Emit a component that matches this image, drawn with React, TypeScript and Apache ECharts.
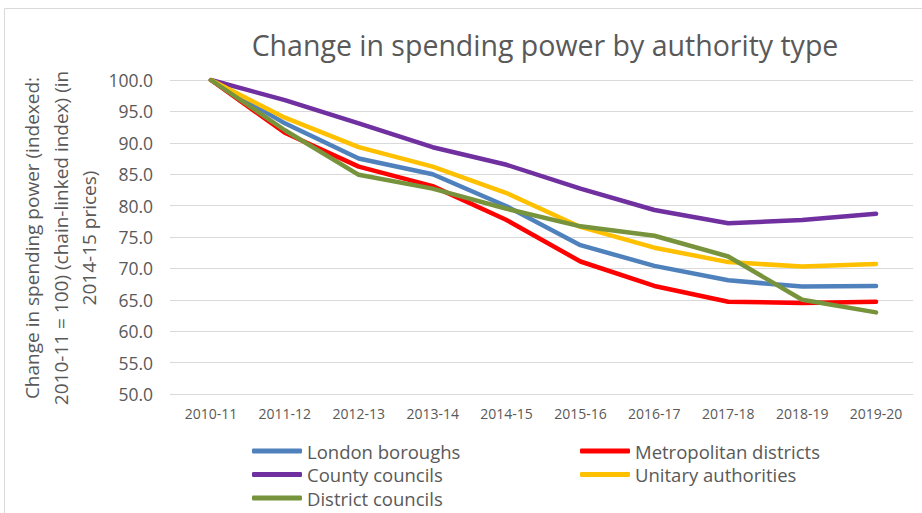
import React, { useEffect, useRef } from "react";
import * as echarts from "echarts";

const categories = ["2010-11", "2011-12", "2012-13", "2013-14", "2014-15", "2015-16", "2016-17", "2017-18", "2018-19", "2019-20"];
const londonBoroughs = [100, 93.1, 87.5, 85.0, 79.9, 73.7, 70.4, 68.1, 67.1, 67.2];
const metropolitanDistricts = [100, 91.6, 86.2, 83.1, 77.7, 71.1, 67.2, 64.7, 64.5, 64.7];
const countyCouncils = [100, 96.8, 93.1, 89.3, 86.5, 82.7, 79.3, 77.2, 77.7, 78.7];
const unitaryAuthorities = [100, 94.0, 89.3, 86.2, 82.0, 76.6, 73.3, 71.0, 70.3, 70.7];
const districtCouncils = [100, 92.0, 84.9, 82.7, 79.5, 76.7, 75.2, 71.9, 65.0, 63.0];

const seriesNames = ["London boroughs", "Metropolitan districts", "County councils", "Unitary authorities", "District councils"];
const seriesData = [londonBoroughs, metropolitanDistricts, countyCouncils, unitaryAuthorities, districtCouncils];
const seriesColors = ["#4F81BD", "#FF0000", "#7030A0", "#FFC000", "#77933C"];

const FONT = "'Open Sans', 'Noto Sans', sans-serif";
const TEXT = "#595959";

export default function App() {
  const ref = useRef<HTMLDivElement>(null);
  useEffect(() => {
    if (!ref.current) return;
    const chart = echarts.init(ref.current, undefined, { renderer: "svg" });
    const legendText = { fontFamily: FONT, fontSize: 18.5, color: TEXT, lineHeight: 20 };
    chart.setOption({
      animation: false,
      backgroundColor: "#FFFFFF",
      textStyle: { fontFamily: FONT },
      graphic: [
        {
          type: "rect",
          shape: { x: 4.5, y: 8.5, width: 940, height: 540 },
          style: { fill: "none", stroke: "#D9D9D9", lineWidth: 1 },
          silent: true,
        },
        {
          type: "text",
          x: 545,
          y: 45,
          style: {
            text: "Change in spending power by authority type",
            fontFamily: FONT,
            fontSize: 28.5,
            fill: TEXT,
            align: "center",
            verticalAlign: "middle",
          },
        },
        {
          type: "text",
          x: 60.5,
          y: 238,
          rotation: Math.PI / 2,
          style: {
            text: "Change in spending power (indexed:\n2010-11 = 100) (chain-linked index) (in\n2014-15 prices)",
            fontFamily: FONT,
            fontSize: 19,
            lineHeight: 28.5,
            fill: TEXT,
            align: "center",
            verticalAlign: "middle",
          },
        },
      ],
      legend: [
        {
          data: [seriesNames[0], seriesNames[2], seriesNames[4]],
          orient: "vertical",
          left: 252,
          top: 441,
          padding: 0,
          icon: "roundRect",
          itemWidth: 50,
          itemHeight: 5,
          itemGap: 3.5,
          textStyle: legendText,
        },
        {
          data: [seriesNames[1], seriesNames[3]],
          orient: "vertical",
          left: 580,
          top: 441,
          padding: 0,
          icon: "roundRect",
          itemWidth: 50,
          itemHeight: 5,
          itemGap: 3.5,
          textStyle: legendText,
        },
      ],
      grid: { left: 174, right: 9, top: 80, bottom: 119, containLabel: false },
      xAxis: {
        type: "category",
        data: categories,
        boundaryGap: true,
        axisLine: { show: true, lineStyle: { color: "#D9D9D9" } },
        axisTick: { show: false },
        axisLabel: { color: TEXT, fontSize: 14, fontFamily: FONT, margin: 12 },
      },
      yAxis: {
        type: "value",
        min: 50,
        max: 100,
        interval: 5,
        axisLine: { show: false },
        axisTick: { show: true, length: 4, lineStyle: { color: "#D9D9D9" } },
        splitLine: { lineStyle: { color: "#D9D9D9", width: 1 } },
        axisLabel: { color: TEXT, fontSize: 17.5, fontFamily: FONT, margin: 21, formatter: (v: number) => v.toFixed(1) },
      },
      series: seriesNames.map((name, i) => ({
        name,
        type: "line",
        data: seriesData[i],
        symbol: "none",
        color: seriesColors[i],
        itemStyle: { color: seriesColors[i] },
        lineStyle: { width: 4.5, color: seriesColors[i], cap: "round", join: "round" },
      })),
    });
    return () => chart.dispose();
  }, []);
  return <div ref={ref} style={{ position: "fixed", left: 0, top: 0, width: 922, height: 513 }} />;
}
